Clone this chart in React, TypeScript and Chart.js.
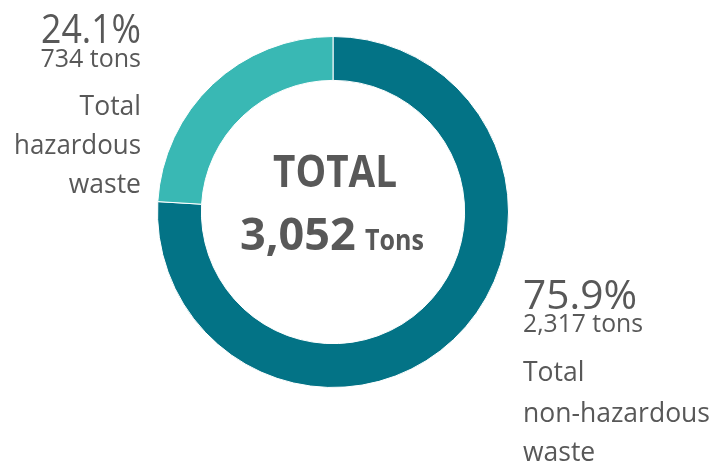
import React, { useEffect, useRef } from "react";
import { Chart, registerables } from "chart.js";

Chart.register(...registerables);

const categories = ["Total non-hazardous waste", "Total hazardous waste"];
const tons = [2317, 734];
const percentLabels = ["75.9%", "24.1%"];
const tonLabels = ["2,317 tons", "734 tons"];
const nameLines = [
  ["Total", "non-hazardous", "waste"],
  ["Total", "hazardous", "waste"],
];
const totalTitle = "TOTAL";
const totalValue = "3,052";
const totalUnit = "Tons";
const colors = ["#037386", "#39B8B4"];

const FONT = "'Open Sans', 'Noto Sans', sans-serif";
const TEXT_COLOR = "#585858";

const labelPlugin = {
  id: "labelPlugin",
  afterDraw(chart: any) {
    const arc = chart.getDatasetMeta(0).data[0];
    if (!arc) return;
    const cx = arc.x;
    const cy = arc.y;
    const ctx = chart.ctx as CanvasRenderingContext2D;
    ctx.save();
    ctx.fillStyle = TEXT_COLOR;
    ctx.textBaseline = "alphabetic";

    // Left block (hazardous) - right aligned
    ctx.textAlign = "right";
    const lx = cx - 192;
    ctx.font = `400 41px ${FONT}`;
    ctx.fillText(percentLabels[1], lx, cy - 169, 100);
    ctx.font = `400 25px ${FONT}`;
    ctx.fillText(tonLabels[1], lx, cy - 145, 104);
    ctx.font = `400 26.5px ${FONT}`;
    const lb = [cy - 97, cy - 58, cy - 19];
    nameLines[1].forEach((t, i) => ctx.fillText(t, lx, lb[i], 127));

    // Right block (non-hazardous) - left aligned
    ctx.textAlign = "left";
    const rx = cx + 190;
    ctx.font = `400 41px ${FONT}`;
    ctx.fillText(percentLabels[0], rx, cy + 97, 114);
    ctx.font = `400 25px ${FONT}`;
    ctx.fillText(tonLabels[0], rx, cy + 120, 120);
    ctx.font = `400 26.5px ${FONT}`;
    const rb = [cy + 169, cy + 210, cy + 249];
    nameLines[0].forEach((t, i) => ctx.fillText(t, rx, rb[i], 188));

    // Center
    ctx.textAlign = "center";
    ctx.font = `700 44px ${FONT}`;
    ctx.fillText(totalTitle, cx + 2, cy - 25, 124);
    ctx.textAlign = "left";
    ctx.font = `700 45px ${FONT}`;
    ctx.fillText(totalValue, cx - 93, cy + 38, 118);
    ctx.font = `700 28px ${FONT}`;
    ctx.fillText(totalUnit, cx + 32, cy + 38, 59);
    ctx.restore();
  },
};

export default function App() {
  const canvasRef = useRef<HTMLCanvasElement | null>(null);

  useEffect(() => {
    document.body.style.margin = "0";
    const canvas = canvasRef.current;
    if (!canvas) return;
    const chart = new Chart(canvas, {
      type: "doughnut",
      data: {
        labels: categories,
        datasets: [
          {
            data: tons,
            backgroundColor: colors,
            borderColor: "#ffffff",
            borderWidth: 1,
            hoverOffset: 0,
          },
        ],
      },
      options: {
        animation: false,
        responsive: false,
        maintainAspectRatio: false,
        cutout: "75%",
        layout: { padding: { left: 157, right: 207, top: 36, bottom: 75 } },
        plugins: {
          legend: { display: false },
          tooltip: { enabled: false },
          title: { display: false },
        },
      },
      plugins: [labelPlugin],
    });
    return () => chart.destroy();
  }, []);

  return (
    <div style={{ width: 716, height: 463, position: "relative", background: "#ffffff" }}>
      <canvas ref={canvasRef} width={716} height={463} style={{ display: "block" }} />
    </div>
  );
}
